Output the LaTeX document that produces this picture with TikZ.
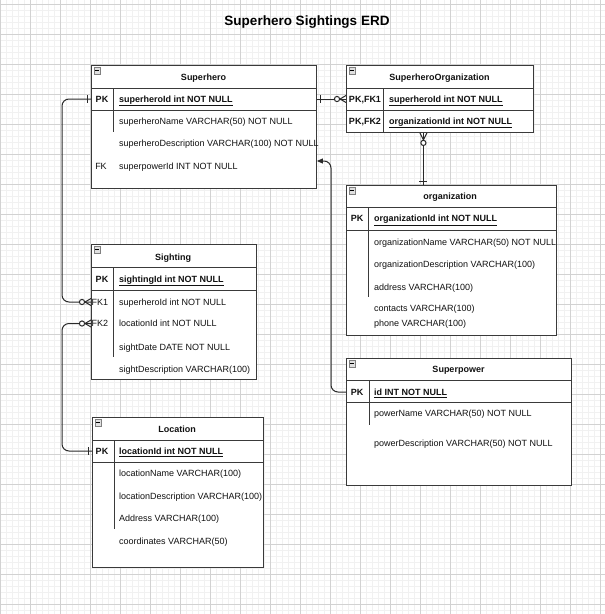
\documentclass[tikz,border=0pt]{standalone}
\usepackage{fontspec}
\setmainfont{Liberation Sans}
\usetikzlibrary{arrows.meta,calc}
\definecolor{bordc}{HTML}{3A3A3A}
\definecolor{relc}{HTML}{2A2A2A}
\definecolor{txtc}{HTML}{111111}
\definecolor{gmin}{HTML}{F1F1F1}
\definecolor{gmaj}{HTML}{D2D2D2}
\definecolor{iconc}{HTML}{E0E0E0}
\begin{document}
\begin{tikzpicture}[x=1pt,y=-1pt,
  tbl/.style={draw=bordc, line width=0.9pt, fill=white, inner sep=0pt, anchor=north west},
  icon/.style={draw=gray, fill=iconc, line width=0.5pt, minimum size=6.5pt, inner sep=0pt},
  hdr/.style={font=\fontsize{9}{11}\selectfont\bfseries, text=txtc, inner sep=0pt, text height=6.5pt, text depth=0pt},
  keyc/.style={font=\fontsize{9}{11}\selectfont, text=txtc, inner sep=0pt, text height=6.5pt, text depth=0pt},
  pkkey/.style={keyc, font=\fontsize{9}{11}\selectfont\bfseries},
  fld/.style={font=\fontsize{9}{11}\selectfont, text=txtc, inner sep=0pt, anchor=west, text height=6.5pt, text depth=0pt},
  pkfld/.style={fld, font=\fontsize{9}{11}\selectfont\bfseries},
  sepl/.style={draw=bordc, line width=0.8pt},
  rel/.style={draw=relc, line width=1pt, rounded corners=7pt},
  mk/.style={draw=relc, line width=1pt},
  ttl/.style={font=\fontsize{13.5}{16}\selectfont\bfseries, text=black, inner sep=0pt}
]
\useasboundingbox (0,0) rectangle (605,614);
\fill[white] (0,0) rectangle (605,614);
% grid
\foreach \x in {0,6,...,605} \draw[gmin, line width=0.5pt] (\x,0) -- (\x,614);
\foreach \y in {4,10,...,614} \draw[gmin, line width=0.5pt] (0,\y) -- (605,\y);
\foreach \x in {0,30,...,600} \draw[gmaj, line width=0.6pt] (\x,0) -- (\x,614);
\foreach \y in {4,34,...,604} \draw[gmaj, line width=0.6pt] (0,\y) -- (605,\y);

% title
\node[ttl] (title) at (307,22) {Superhero Sightings ERD};

% ---------- Superhero ----------
\node[tbl, minimum width=225pt, minimum height=123pt] (sh) at (91,65) {};
\node[icon] (shi) at (97,70.5) {\rule{3.5pt}{0.7pt}};
\node[hdr] (sht) at (203.5,77) {Superhero};
\draw[sepl] (91,88) -- (316,88);
\node[pkkey] (shk) at (102,99) {PK};
\node[pkfld] (shf1) at (119,99) {\underline{superheroId int NOT NULL}};
\draw[sepl] (91,110) -- (316,110);
\draw[sepl] (113,88) -- (113,132);
\node[fld] (shf2) at (119,121) {superheroName VARCHAR(50) NOT NULL};
\node[fld] (shf3) at (119,143) {superheroDescription VARCHAR(100) NOT NULL};
\node[keyc] (shfk) at (101,166) {FK};
\node[fld] (shf4) at (119,166) {superpowerId INT NOT NULL};

% ---------- SuperheroOrganization ----------
\node[tbl, minimum width=187pt, minimum height=67pt] (so) at (346,65) {};
\node[icon] (soi) at (352,70.5) {\rule{3.5pt}{0.7pt}};
\node[hdr] (sot) at (439.5,77) {SuperheroOrganization};
\draw[sepl] (346,88) -- (533,88);
\node[pkkey] (sok1) at (365,99) {PK,FK1};
\node[pkfld] (sof1) at (389,99) {\underline{superheroId int NOT NULL}};
\draw[sepl] (346,110) -- (533,110);
\node[pkkey] (sok2) at (365,121) {PK,FK2};
\node[pkfld] (sof2) at (389,121) {\underline{organizationId int NOT NULL}};
\draw[sepl] (383,88) -- (383,132);

% ---------- organization ----------
\node[tbl, minimum width=210pt, minimum height=150pt] (org) at (346,185) {};
\node[icon] (orgi) at (352,190.5) {\rule{3.5pt}{0.7pt}};
\node[hdr] (orgt) at (450,196.5) {organization};
\draw[sepl] (346,207.5) -- (556,207.5);
\node[pkkey] (orgk) at (357,218.5) {PK};
\node[pkfld] (orgf1) at (374,218.5) {\underline{organizationId int NOT NULL}};
\draw[sepl] (346,230) -- (556,230);
\draw[sepl] (368,207.5) -- (368,297);
\node[fld] (orgf2) at (374,242) {organizationName VARCHAR(50) NOT NULL};
\node[fld] (orgf3) at (374,264) {organizationDescription VARCHAR(100)};
\node[fld] (orgf4) at (374,287) {address VARCHAR(100)};
\node[fld] (orgf5) at (374,308) {contacts VARCHAR(100)};
\node[fld] (orgf6) at (374,323.5) {phone VARCHAR(100)};

% ---------- Sighting ----------
\node[tbl, minimum width=165pt, minimum height=135pt] (sg) at (91,244) {};
\node[icon] (sgi) at (97,249.5) {\rule{3.5pt}{0.7pt}};
\node[hdr] (sgt) at (173,257) {Sighting};
\draw[sepl] (91,267) -- (256,267);
\node[pkkey] (sgk) at (102,279) {PK};
\node[pkfld] (sgf1) at (119,279) {\underline{sightingId int NOT NULL}};
\draw[sepl] (91,290) -- (256,290);
\draw[sepl] (113,267) -- (113,357);
\node[keyc] (sgk1) at (100,302) {FK1};
\node[fld] (sgf2) at (119,302) {superheroId int NOT NULL};
\node[keyc] (sgk2) at (100,323.5) {FK2};
\node[fld] (sgf3) at (119,323.5) {locationId int NOT NULL};
\node[fld] (sgf4) at (119,347) {sightDate DATE NOT NULL};
\node[fld] (sgf5) at (119,369) {sightDescription VARCHAR(100)};

% ---------- Superpower ----------
\node[tbl, minimum width=225pt, minimum height=127pt] (sp) at (346,358) {};
\node[icon] (spi) at (352,363.5) {\rule{3.5pt}{0.7pt}};
\node[hdr] (spt) at (458.5,369.5) {Superpower};
\draw[sepl] (346,380) -- (571,380);
\node[pkkey] (spk) at (357,392) {PK};
\node[pkfld] (spf1) at (374,392) {\underline{id INT NOT NULL}};
\draw[sepl] (346,402) -- (571,402);
\draw[sepl] (369,380) -- (369,425);
\node[fld] (spf2) at (374,413) {powerName VARCHAR(50) NOT NULL};
\node[fld] (spf3) at (374,443) {powerDescription VARCHAR(50) NOT NULL};

% ---------- Location ----------
\node[tbl, minimum width=171pt, minimum height=150pt] (lo) at (92,417) {};
\node[icon] (loi) at (98,422.5) {\rule{3.5pt}{0.7pt}};
\node[hdr] (lot) at (177,429.5) {Location};
\draw[sepl] (92,440) -- (263,440);
\node[pkkey] (lok) at (102,451) {PK};
\node[pkfld] (lof1) at (119,451) {\underline{locationId int NOT NULL}};
\draw[sepl] (92,462) -- (263,462);
\draw[sepl] (114,440) -- (114,529);
\node[fld] (lof2) at (119,473) {locationName VARCHAR(100)};
\node[fld] (lof3) at (119,496.5) {locationDescription VARCHAR(100)};
\node[fld] (lof4) at (119,518.5) {Address VARCHAR(100)};
\node[fld] (lof5) at (119,541.5) {coordinates VARCHAR(50)};

% ---------- connectors ----------
% Sighting.FK1 -> Superhero.PK
\coordinate (a1) at (sg.west |- sgk1);
\coordinate (b1) at (sh.west |- shk);
\draw[rel] (a1) -- ++(-29,0) |- (b1);
\draw[mk] ([xshift=-6pt]a1) -- ([yshift=3.5pt]a1);
\draw[mk] ([xshift=-6pt]a1) -- ([yshift=-3.5pt]a1);
\draw[mk, fill=white] ([xshift=-9pt]a1) circle (2.6pt);
\draw[mk] ([xshift=-4pt,yshift=4pt]b1) -- ([xshift=-4pt,yshift=-4pt]b1);

% Sighting.FK2 -> Location.PK
\coordinate (a2) at (sg.west |- sgk2);
\coordinate (b2) at (lo.west |- lok);
\draw[rel] (a2) -- ++(-29,0) |- (b2);
\draw[mk] ([xshift=-6pt]a2) -- ([yshift=3.5pt]a2);
\draw[mk] ([xshift=-6pt]a2) -- ([yshift=-3.5pt]a2);
\draw[mk, fill=white] ([xshift=-9pt]a2) circle (2.6pt);
\draw[mk] ([xshift=-4pt,yshift=4pt]b2) -- ([xshift=-4pt,yshift=-4pt]b2);

% Superhero.PK -> SuperheroOrganization.FK1
\coordinate (a3) at (sh.east |- shk);
\coordinate (b3) at (so.west |- sok1);
\draw[rel] (a3) -- (b3);
\draw[mk] ([xshift=4pt,yshift=4pt]a3) -- ([xshift=4pt,yshift=-4pt]a3);
\draw[mk] ([xshift=-6pt]b3) -- ([yshift=3.5pt]b3);
\draw[mk] ([xshift=-6pt]b3) -- ([yshift=-3.5pt]b3);
\draw[mk, fill=white] ([xshift=-9pt]b3) circle (2.6pt);

% SuperheroOrganization.FK2 -> organization
\coordinate (a4) at ($(so.south west)!0.412!(so.south east)$);
\coordinate (b4) at (a4 |- org.north);
\draw[rel] (a4) -- (b4);
\draw[mk] ([yshift=-7pt]a4) -- ([xshift=3.5pt]a4);
\draw[mk] ([yshift=-7pt]a4) -- ([xshift=-3.5pt]a4);
\draw[mk, fill=white] ([yshift=-10pt]a4) circle (2.6pt);
\draw[mk] ([xshift=-4pt,yshift=4pt]b4) -- ([xshift=4pt,yshift=4pt]b4);

% Superpower.PK -> Superhero.FK
\coordinate (a5) at (sp.west |- spk);
\coordinate (b5) at (sh.east |- shfk);
\draw[rel, -{Triangle[length=6pt,width=5pt]}] (a5) -- ++(-15,0) |- ([yshift=5pt]b5);
\end{tikzpicture}
\end{document}
